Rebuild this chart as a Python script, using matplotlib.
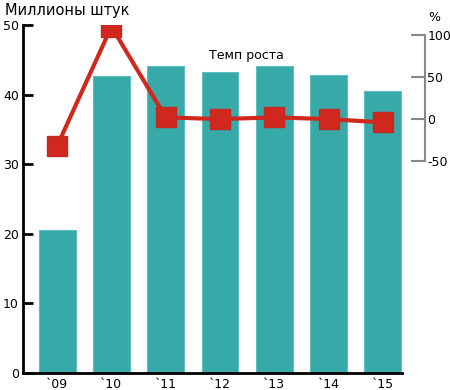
import matplotlib.pyplot as plt

plt.rcParams['axes.unicode_minus'] = False

years = ['`09', '`10', '`11', '`12', '`13', '`14', '`15']
units = [20.5, 42.7, 44.1, 43.3, 44.1, 42.8, 40.5]      # миллионы штук
growth = [-32, 110, 2, 0, 2, 0, -4]                      # темп роста, %

teal = '#36a9a8'
red = '#d0281e'

fig = plt.figure(figsize=(4.5, 3.9), dpi=100)
ax = fig.add_axes([0.051, 0.044, 0.842, 0.892])
x = range(len(years))
ax.bar(x, units, width=0.68, color=teal, edgecolor='#5cc0bf', linewidth=0.8, zorder=2)
ax.set_xlim(-0.63, 6.35)
ax.set_ylim(0, 50)
ax.set_yticks([0, 10, 20, 30, 40, 50])
ax.set_xticks(list(x))
ax.set_xticklabels(years)
ax.tick_params(axis='y', direction='in', length=7, width=2, labelsize=9, pad=3)
ax.tick_params(axis='x', length=0, labelsize=9, pad=4)
for s in ['top', 'right']:
    ax.spines[s].set_visible(False)
ax.spines['left'].set_linewidth(2)
ax.spines['bottom'].set_linewidth(2)
ax.text(-0.96, 51.0, 'Миллионы штук', fontsize=10.5, ha='left', va='bottom')

ax2 = ax.twinx()
ax2.plot(list(x), growth, color=red, linewidth=3, marker='s', markersize=14,
         markerfacecolor=red, markeredgecolor='#c02a20', zorder=3)
ax2.set_ylim(-302, 112)
ax2.set_yticks([-50, 0, 50, 100])
ax2.spines['right'].set_position(('axes', 1.06))
ax2.spines['right'].set_bounds(-50, 100)
ax2.spines['right'].set_color('#888888')
ax2.spines['right'].set_linewidth(1.5)
for s in ['top', 'left', 'bottom']:
    ax2.spines[s].set_visible(False)
ax2.tick_params(axis='y', direction='in', length=10, width=1.5, color='#888888',
                labelsize=9, pad=2)
ax2.text(1.085, 121, '%', transform=ax2.get_yaxis_transform(), fontsize=9,
         ha='center', va='center')
ax2.text(3.48, 76, 'Темп роста', fontsize=9, ha='center', va='center')

fig.savefig('out.png', dpi=100)
